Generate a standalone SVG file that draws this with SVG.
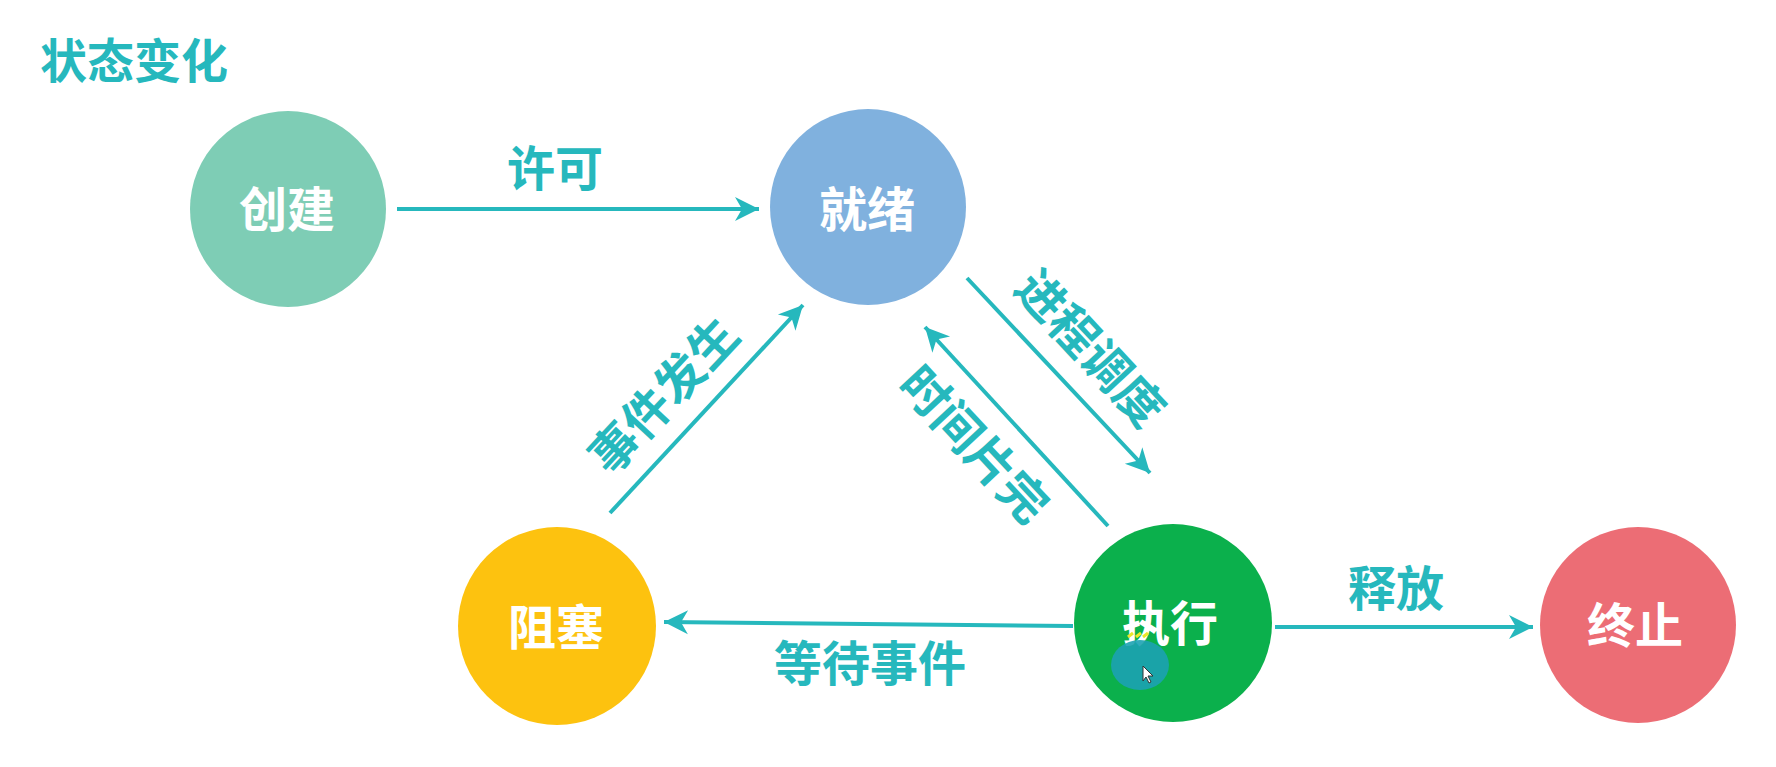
<svg xmlns="http://www.w3.org/2000/svg" width="1776" height="767" viewBox="0 0 1776 767">
<style>
.lbl{font-family:"Noto Sans CJK SC","Noto Sans",sans-serif;font-weight:700;font-size:48px;text-anchor:middle;dominant-baseline:central}
.node{fill:#ffffff}
.edge{fill:#26b8bd}
.title{fill:#26b8bd;font-size:47px}
.conn line{stroke:#26b8bd;stroke-width:4;fill:none;marker-end:url(#arr)}
</style>
<defs>
<marker id="arr" markerUnits="userSpaceOnUse" markerWidth="30" markerHeight="30" viewBox="0 0 30 30" refX="27" refY="15" orient="auto">
<path d="M3,3 L27,15 L3,27 L10,15 Z" fill="#26b8bd"/>
</marker>
</defs>
<rect width="1776" height="767" fill="#ffffff"/>
<text class="lbl title" x="134" y="57">状态变化</text>
<g id="n-create"><circle cx="288" cy="209" r="98" fill="#7ecdb5"/><text class="lbl node" x="287" y="206">创建</text></g>
<g id="n-ready"><circle cx="868" cy="207" r="98" fill="#80b1de"/><text class="lbl node" x="867" y="206">就绪</text></g>
<g id="n-block"><circle cx="557" cy="626" r="99" fill="#fdc20f"/><text class="lbl node" x="556" y="624">阻塞</text></g>
<g id="n-run"><circle cx="1173" cy="623" r="99" fill="#0bb04c"/><text class="lbl node" x="1170" y="620">执行</text>
<path d="M1128,637 l5,-4 M1136,637 l5,-4 M1143,637 l5,-4" stroke="#e8e82a" stroke-width="3"/>
<ellipse cx="1140" cy="665" rx="29" ry="25" fill="#1ca2b3" opacity="0.9"/>
<path d="M1143,666 L1143,681 L1146,677 L1149,683 L1151,682 L1148,676 L1153,676 Z" fill="#ffffff" stroke="#333" stroke-width="1"/>
</g>
<g id="n-end"><circle cx="1638" cy="625" r="98" fill="#ec6d75"/><text class="lbl node" x="1635" y="622">终止</text></g>
<g id="connectors" class="conn">
<line x1="397" y1="209" x2="759" y2="209"/>
<line x1="967" y1="278" x2="1150" y2="473"/>
<line x1="1108" y1="526" x2="925" y2="327"/>
<line x1="610" y1="513" x2="803" y2="305"/>
<line x1="1073" y1="626" x2="664" y2="622"/>
<line x1="1275" y1="627" x2="1533" y2="627"/>
</g>
<g id="edge-labels">
<text class="lbl edge" x="555" y="165">许可</text>
<text class="lbl edge" x="1093" y="346" transform="rotate(47 1093 346)">进程调度</text>
<text class="lbl edge" x="977" y="442" transform="rotate(47 977 442)">时间片完</text>
<text class="lbl edge" x="661" y="393" transform="rotate(-47 661 393)">事件发生</text>
<text class="lbl edge" x="870" y="660">等待事件</text>
<text class="lbl edge" x="1396" y="585">释放</text>
</g>
</svg>
